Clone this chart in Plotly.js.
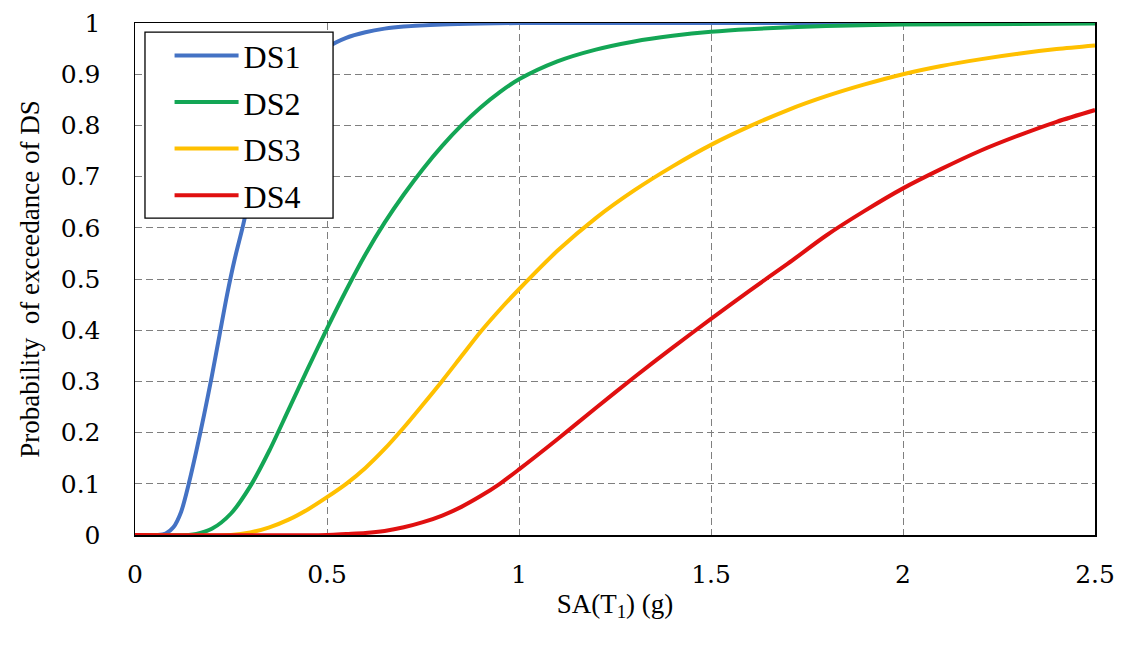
<!DOCTYPE html>
<html>
<head>
<meta charset="utf-8">
<script src="https://cdn.plot.ly/plotly-3.0.1.min.js"></script>
<style>html,body{margin:0;padding:0;background:#fff;}#chart{width:1121px;height:645px;}</style>
</head>
<body>
<div id="chart"></div>
<script>
// Values
const ds1X = [0, 0.06, 0.08, 0.1, 0.12, 0.14, 0.16, 0.18, 0.2, 0.22, 0.24, 0.26, 0.28, 0.3, 0.35, 0.4, 0.45, 0.5, 0.55, 0.6, 0.65, 0.7, 0.8, 0.9, 1.0, 1.5, 2.0, 2.5];
const ds1Y = [0, 0, 0.003, 0.015, 0.045, 0.1, 0.165, 0.235, 0.31, 0.39, 0.47, 0.54, 0.6, 0.665, 0.785, 0.868, 0.92, 0.952, 0.971, 0.982, 0.989, 0.993, 0.997, 0.999, 1, 1, 1, 1];

const ds2X = [0, 0.14, 0.16, 0.2, 0.25, 0.3, 0.35, 0.4, 0.45, 0.5, 0.55, 0.6, 0.65, 0.7, 0.75, 0.8, 0.85, 0.9, 0.95, 1.0, 1.1, 1.2, 1.3, 1.4, 1.5, 1.6, 1.8, 2.0, 2.5];
const ds2Y = [0, 0, 0.002, 0.012, 0.042, 0.095, 0.165, 0.245, 0.325, 0.403, 0.478, 0.548, 0.61, 0.665, 0.715, 0.76, 0.8, 0.835, 0.865, 0.89, 0.925, 0.948, 0.964, 0.975, 0.983, 0.988, 0.994, 0.997, 0.999];

const ds3X = [0, 0.25, 0.3, 0.35, 0.4, 0.45, 0.5, 0.55, 0.6, 0.65, 0.7, 0.75, 0.8, 0.85, 0.9, 0.95, 1.0, 1.1, 1.2, 1.3, 1.4, 1.5, 1.6, 1.7, 1.8, 1.9, 2.0, 2.1, 2.2, 2.3, 2.4, 2.5];
const ds3Y = [0, 0, 0.005, 0.015, 0.03, 0.05, 0.074, 0.1, 0.131, 0.168, 0.21, 0.255, 0.301, 0.349, 0.397, 0.44, 0.48, 0.555, 0.619, 0.673, 0.72, 0.762, 0.798, 0.83, 0.857, 0.88, 0.9, 0.916, 0.929, 0.94, 0.949, 0.956];

const ds4X = [0, 0.5, 0.55, 0.6, 0.65, 0.7, 0.75, 0.8, 0.85, 0.9, 0.95, 1.0, 1.1, 1.2, 1.3, 1.4, 1.5, 1.6, 1.7, 1.8, 1.9, 2.0, 2.1, 2.2, 2.3, 2.4, 2.5];
const ds4Y = [0, 0, 0.002, 0.004, 0.008, 0.015, 0.025, 0.038, 0.055, 0.076, 0.1, 0.128, 0.187, 0.248, 0.308, 0.366, 0.422, 0.477, 0.53, 0.585, 0.633, 0.677, 0.715, 0.75, 0.78, 0.807, 0.83];

const seriesNames = ['DS1', 'DS2', 'DS3', 'DS4'];
const xTicks = [0, 0.5, 1, 1.5, 2, 2.5];
const xTickText = ['0', '0.5', '1', '1.5', '2', '2.5'];
const yTicks = [0, 0.1, 0.2, 0.3, 0.4, 0.5, 0.6, 0.7, 0.8, 0.9, 1];
const yTickText = ['0', '0.1', '0.2', '0.3', '0.4', '0.5', '0.6', '0.7', '0.8', '0.9', '1'];

const colors = ['#4472C4', '#13A655', '#FFC000', '#E01010'];
const xs = [ds1X, ds2X, ds3X, ds4X];
const ys = [ds1Y, ds2Y, ds3Y, ds4Y];

const serif = 'Liberation Serif, Times New Roman, serif';
const tickSerif = 'DejaVu Serif, serif';

const traces = seriesNames.map((n, i) => ({
  x: xs[i], y: ys[i], name: n, type: 'scatter', mode: 'lines',
  line: {color: colors[i], width: 4, shape: 'spline', smoothing: 0.8},
  legendgroup: 'g' + i
}));

const layout = {
  width: 1121, height: 645,
  margin: {l: 135, r: 26, t: 23, b: 110},
  paper_bgcolor: '#fff', plot_bgcolor: '#fff',
  font: {family: serif, color: '#000', size: 22},
  showlegend: true,
  shapes: [{
    type: 'rect', xref: 'paper', yref: 'paper', layer: 'above',
    x0: 0.0104, x1: 0.2063, y0: 0.619, y1: 0.982,
    line: {color: '#000', width: 1.3}, fillcolor: '#fff'
  }],
  legend: {
    x: 0.036, y: 0.99, xanchor: 'left', yanchor: 'top',
    borderwidth: 0, bgcolor: 'rgba(0,0,0,0)',
    font: {family: serif, size: 32, color: '#000'},
    traceorder: 'grouped', tracegroupgap: 2,
    itemwidth: 64
  },
  xaxis: {
    range: [0, 2.5], tickvals: xTicks, ticktext: xTickText,
    showgrid: true, gridcolor: '#7f7f7f', griddash: '7px,4px', gridwidth: 1,
    showline: true, linecolor: '#000', linewidth: 1.5, mirror: true,
    zeroline: false, ticks: '', ticklabelstandoff: 16,
    tickfont: {family: tickSerif, size: 25, color: '#000'},
    title: {text: 'SA(T<sub>1</sub>) (g)', font: {family: serif, size: 27, color: '#000'}, standoff: 6}
  },
  yaxis: {
    range: [0, 1], tickvals: yTicks, ticktext: yTickText,
    showgrid: true, gridcolor: '#7f7f7f', griddash: '7px,4px', gridwidth: 1,
    showline: true, linecolor: '#000', linewidth: 1.5, mirror: true,
    zeroline: false, ticks: '', ticklabelstandoff: 28,
    tickfont: {family: tickSerif, size: 25, color: '#000'},
    title: {text: 'Probability  of exceedance of DS', font: {family: serif, size: 27, color: '#000'}, standoff: 13}
  }
};

Plotly.newPlot('chart', traces, layout, {displayModeBar: false, staticPlot: true});
</script>
</body>
</html>
